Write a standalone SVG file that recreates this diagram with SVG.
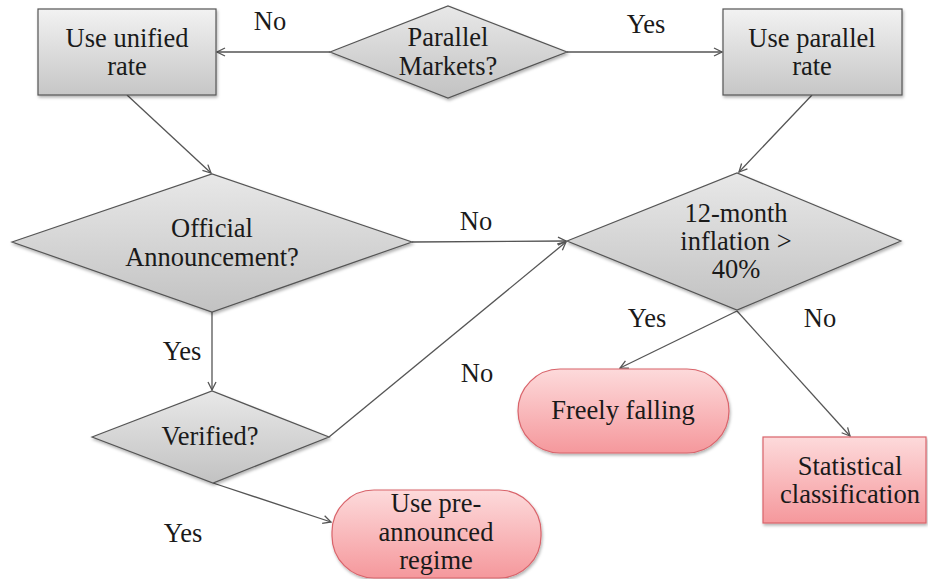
<svg xmlns="http://www.w3.org/2000/svg" width="928" height="579" viewBox="0 0 928 579" font-family="Liberation Serif" font-size="26.5">
<defs>
<linearGradient id="gGrey" x1="0" y1="0" x2="0" y2="1"><stop offset="0" stop-color="#f2f2f2"/><stop offset="1" stop-color="#c6c6c6"/></linearGradient>
<linearGradient id="gDia" x1="0" y1="0" x2="0" y2="1"><stop offset="0" stop-color="#e8e8e8"/><stop offset="1" stop-color="#c2c2c2"/></linearGradient>
<linearGradient id="gPink" x1="0" y1="0" x2="0" y2="1"><stop offset="0" stop-color="#fddadb"/><stop offset="1" stop-color="#f5989c"/></linearGradient>
<filter id="sh" x="-10%" y="-10%" width="125%" height="130%"><feDropShadow dx="1" dy="2" stdDeviation="1.5" flood-color="#000" flood-opacity="0.3"/></filter>
<marker id="arr" viewBox="0 0 10 10" refX="9" refY="5" markerWidth="10" markerHeight="10" markerUnits="userSpaceOnUse" orient="auto"><path d="M1,1 L9,5 L1,9" fill="none" stroke="#555" stroke-width="1.3"/></marker>
</defs>
<g id="connectors" stroke="#555" stroke-width="1.3" marker-end="url(#arr)">
<line x1="330" y1="52" x2="217" y2="52"/>
<line x1="567" y1="52" x2="722" y2="52"/>
<line x1="127" y1="95" x2="211" y2="173"/>
<line x1="812" y1="95" x2="739" y2="172"/>
<line x1="412" y1="242" x2="566" y2="241"/>
<line x1="212" y1="312" x2="212" y2="390"/>
<line x1="329" y1="437" x2="566" y2="242"/>
<line x1="213" y1="483" x2="331" y2="522"/>
<line x1="737" y1="311" x2="620" y2="368"/>
<line x1="737" y1="311" x2="850" y2="436"/>
</g>
<g id="labels" fill="#1a1a1a" text-anchor="middle">
<text x="270" y="30" font-family="Liberation Serif">No</text>
<text x="646" y="33" font-family="Liberation Serif">Yes</text>
<text x="476" y="230" font-family="Liberation Serif">No</text>
<text x="182" y="360" font-family="Liberation Serif">Yes</text>
<text x="477" y="382" font-family="Liberation Serif">No</text>
<text x="183" y="542" font-family="Liberation Serif">Yes</text>
<text x="647" y="327" font-family="Liberation Serif">Yes</text>
<text x="820" y="327" font-family="Liberation Serif">No</text>
</g>
<g id="unified" text-anchor="middle">
<rect x="38" y="9" width="178" height="86" fill="url(#gGrey)" stroke="#555" stroke-width="1.2" filter="url(#sh)"/>
<text x="127" y="47" fill="#1a1a1a" font-family="Liberation Serif">Use unified</text>
<text x="127" y="75" fill="#1a1a1a" font-family="Liberation Serif">rate</text>
</g>
<g id="parallelMarkets" text-anchor="middle">
<polygon points="330,52 448,6 567,52 448,98" fill="url(#gDia)" stroke="#555" stroke-width="1.2" filter="url(#sh)"/>
<text x="448" y="46" fill="#1a1a1a" font-family="Liberation Serif">Parallel</text>
<text x="448" y="75" fill="#1a1a1a" font-family="Liberation Serif">Markets?</text>
</g>
<g id="parallelRate" text-anchor="middle">
<rect x="723" y="9" width="179" height="86" fill="url(#gGrey)" stroke="#555" stroke-width="1.2" filter="url(#sh)"/>
<text x="812" y="47" fill="#1a1a1a" font-family="Liberation Serif">Use parallel</text>
<text x="812" y="75" fill="#1a1a1a" font-family="Liberation Serif">rate</text>
</g>
<g id="official" text-anchor="middle">
<polygon points="12,242 212,174 412,242 212,312" fill="url(#gDia)" stroke="#555" stroke-width="1.2" filter="url(#sh)"/>
<text x="212" y="237" fill="#1a1a1a" font-family="Liberation Serif">Official</text>
<text x="212" y="266" fill="#1a1a1a" font-family="Liberation Serif">Announcement?</text>
</g>
<g id="inflation" text-anchor="middle">
<polygon points="567,241 737,173 901,241 737,310" fill="url(#gDia)" stroke="#555" stroke-width="1.2" filter="url(#sh)"/>
<text x="736" y="222" fill="#1a1a1a" font-family="Liberation Serif">12-month</text>
<text x="736" y="250" fill="#1a1a1a" font-family="Liberation Serif">inflation &gt;</text>
<text x="736" y="278" fill="#1a1a1a" font-family="Liberation Serif">40%</text>
</g>
<g id="verified" text-anchor="middle">
<polygon points="92,437 212,391 329,437 213,483" fill="url(#gDia)" stroke="#555" stroke-width="1.2" filter="url(#sh)"/>
<text x="210" y="445" fill="#1a1a1a" font-family="Liberation Serif">Verified?</text>
</g>
<g id="preannounced" text-anchor="middle">
<rect x="332" y="490" width="209" height="88" rx="42" fill="url(#gPink)" stroke="#d9646b" stroke-width="1.2" filter="url(#sh)"/>
<text x="436" y="512" fill="#1a1a1a" font-family="Liberation Serif">Use pre-</text>
<text x="436" y="541" fill="#1a1a1a" font-family="Liberation Serif">announced</text>
<text x="436" y="569" fill="#1a1a1a" font-family="Liberation Serif">regime</text>
</g>
<g id="freely" text-anchor="middle">
<rect x="518" y="369" width="211" height="84" rx="42" fill="url(#gPink)" stroke="#d9646b" stroke-width="1.2" filter="url(#sh)"/>
<text x="623" y="419" fill="#1a1a1a" font-family="Liberation Serif">Freely falling</text>
</g>
<g id="statistical" text-anchor="middle">
<rect x="763" y="437" width="163" height="86" fill="url(#gPink)" stroke="#d9646b" stroke-width="1.2" filter="url(#sh)"/>
<text x="850" y="475" fill="#1a1a1a" font-family="Liberation Serif">Statistical</text>
<text x="850" y="503" fill="#1a1a1a" font-family="Liberation Serif">classification</text>
</g>
</svg>
